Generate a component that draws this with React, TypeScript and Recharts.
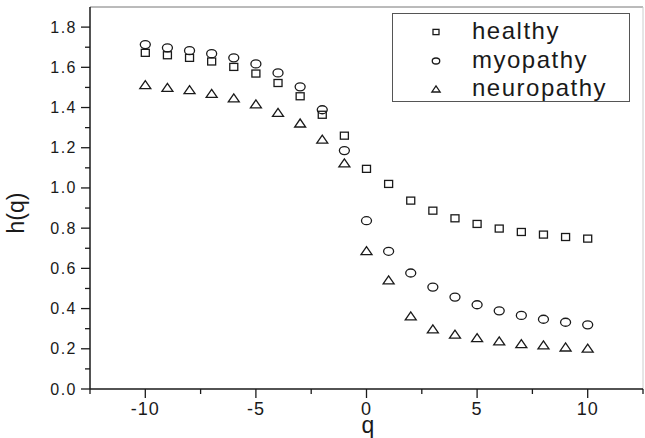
import React from 'react';
import {
  ScatterChart,
  Scatter,
  XAxis,
  YAxis,
  ReferenceLine,
  Legend
} from 'recharts';

const FONT = '"Liberation Sans", Arial, sans-serif';
const INK = '#1a1a1a';

const qValues = [-10, -9, -8, -7, -6, -5, -4, -3, -2, -1, 0, 1, 2, 3, 4, 5, 6, 7, 8, 9, 10];
const healthy = [1.672, 1.66, 1.647, 1.629, 1.602, 1.569, 1.522, 1.456, 1.364, 1.26, 1.095, 1.02, 0.937, 0.887, 0.849, 0.821, 0.798, 0.781, 0.768, 0.756, 0.748];
const myopathy = [1.713, 1.697, 1.683, 1.668, 1.647, 1.617, 1.572, 1.503, 1.389, 1.186, 0.837, 0.685, 0.577, 0.507, 0.457, 0.419, 0.389, 0.366, 0.347, 0.332, 0.319];
const neuropathy = [1.514, 1.5, 1.489, 1.47, 1.448, 1.418, 1.376, 1.323, 1.243, 1.125, 0.688, 0.543, 0.364, 0.299, 0.273, 0.256, 0.239, 0.226, 0.219, 0.209, 0.203];

const xTicks = [-12.5, -10, -7.5, -5, -2.5, 0, 2.5, 5, 7.5, 10, 12.5];
const yTicks = [0, 0.1, 0.2, 0.3, 0.4, 0.5, 0.6, 0.7, 0.8, 0.9, 1.0, 1.1, 1.2, 1.3, 1.4, 1.5, 1.6, 1.7, 1.8];

type Kind = 'square' | 'circle' | 'triangle';

const series: Array<{ name: string; kind: Kind; values: number[] }> = [
  { name: 'healthy', kind: 'square', values: healthy },
  { name: 'myopathy', kind: 'circle', values: myopathy },
  { name: 'neuropathy', kind: 'triangle', values: neuropathy }
];

const toPoints = (values: number[]) => qValues.map((q, i) => ({ q, h: values[i] }));

// marker drawn around (cx, cy); s = scale for legend
const marker = (kind: Kind, cx: number, cy: number, s = 1) => {
  if (kind === 'square') {
    return <rect x={cx - 4 * s} y={cy - 3.5 * s} width={8 * s} height={7 * s} fill="none" stroke={INK} strokeWidth={1.3} />;
  }
  if (kind === 'circle') {
    return <ellipse cx={cx} cy={cy} rx={5 * s} ry={4 * s} fill="none" stroke={INK} strokeWidth={1.3} />;
  }
  const w = 5.5 * s;
  const hh = 4 * s;
  return (
    <polygon
      points={`${cx - w},${cy + hh} ${cx + w},${cy + hh} ${cx},${cy - hh}`}
      fill="none"
      stroke={INK}
      strokeWidth={1.3}
      strokeLinejoin="miter"
    />
  );
};

const shapeFor = (kind: Kind) => (props: any) => {
  const { cx, cy } = props;
  if (cx == null || cy == null) return <g />;
  return <g>{marker(kind, cx, cy)}</g>;
};

const XTick = (props: any) => {
  const { x, y, payload } = props;
  const v = payload.value as number;
  const major = v % 5 === 0;
  return (
    <g>
      <line x1={x} y1={y} x2={x} y2={y + (major ? 9 : 5)} stroke={INK} strokeWidth={1.3} />
      {major && (
        <text x={x} y={y + 20} textAnchor="middle" dominantBaseline="central"
          fontFamily={FONT} fontSize={18} letterSpacing={1} fill={INK}>
          {String(v)}
        </text>
      )}
    </g>
  );
};

const YTick = (props: any) => {
  const { x, y, payload } = props;
  const v = payload.value as number;
  const major = Math.round(v * 10) % 2 === 0;
  return (
    <g>
      <line x1={x - (major ? 9 : 5)} y1={y} x2={x} y2={y} stroke={INK} strokeWidth={1.3} />
      {major && (
        <text x={x - 13} y={y} textAnchor="end" dominantBaseline="central"
          fontFamily={FONT} fontSize={16} letterSpacing={1.5} fill={INK}>
          {v.toFixed(1)}
        </text>
      )}
    </g>
  );
};

const LegendBox = () => (
  <div style={{
    width: 238,
    height: 89,
    boxSizing: 'border-box',
    border: '1px solid #555',
    background: 'white',
    paddingTop: 3,
    fontFamily: FONT
  }}>
    {series.map(s => (
      <div key={s.name} style={{ display: 'flex', alignItems: 'center', height: 28.5 }}>
        <svg width={79} height={28} style={{ display: 'block' }}>
          {marker(s.kind, 43, 15, 0.75)}
        </svg>
        <span style={{ fontSize: 24, letterSpacing: 1.5, color: INK, lineHeight: '28px' }}>{s.name}</span>
      </div>
    ))}
  </div>
);

export default function App() {
  return (
    <div style={{ position: 'absolute', left: 0, top: 0, background: 'white' }}>
      <ScatterChart width={645} height={438} margin={{ top: 7, right: 2, bottom: 0, left: 0 }}>
        <XAxis
          type="number"
          dataKey="q"
          domain={[-12.5, 12.5]}
          ticks={xTicks}
          interval={0}
          height={49}
          tickSize={0}
          tickMargin={0}
          tick={<XTick />}
          axisLine={{ stroke: INK, strokeWidth: 1.5 }}
          tickLine={false}
          allowDataOverflow
          label={{
            content: () => (
              <text x={368} y={433} textAnchor="middle" fontFamily={FONT} fontSize={23} fill={INK}>q</text>
            )
          }}
        />
        <YAxis
          type="number"
          dataKey="h"
          domain={[0, 1.9]}
          ticks={yTicks}
          interval={0}
          width={90}
          tickSize={0}
          tickMargin={0}
          tick={<YTick />}
          axisLine={{ stroke: INK, strokeWidth: 1.5 }}
          tickLine={false}
          allowDataOverflow
          label={{
            content: () => (
              <text x={16} y={213} transform="rotate(-90 16 213)" textAnchor="middle"
                dominantBaseline="central" fontFamily={FONT} fontSize={23} fill={INK}>
                h(q)
              </text>
            )
          }}
        />
        <ReferenceLine y={1.9} stroke="#777" strokeWidth={1} />
        <ReferenceLine x={12.5} stroke="#ccc" strokeWidth={1} />
        {series.map(s => (
          <Scatter
            key={s.name}
            name={s.name}
            data={toPoints(s.values)}
            shape={shapeFor(s.kind)}
            isAnimationActive={false}
          />
        ))}
        <Legend
          layout="vertical"
          align="center"
          verticalAlign="middle"
          content={<LegendBox />}
          wrapperStyle={{ left: 392, top: 13, width: 238, height: 89 }}
        />
      </ScatterChart>
    </div>
  );
}
